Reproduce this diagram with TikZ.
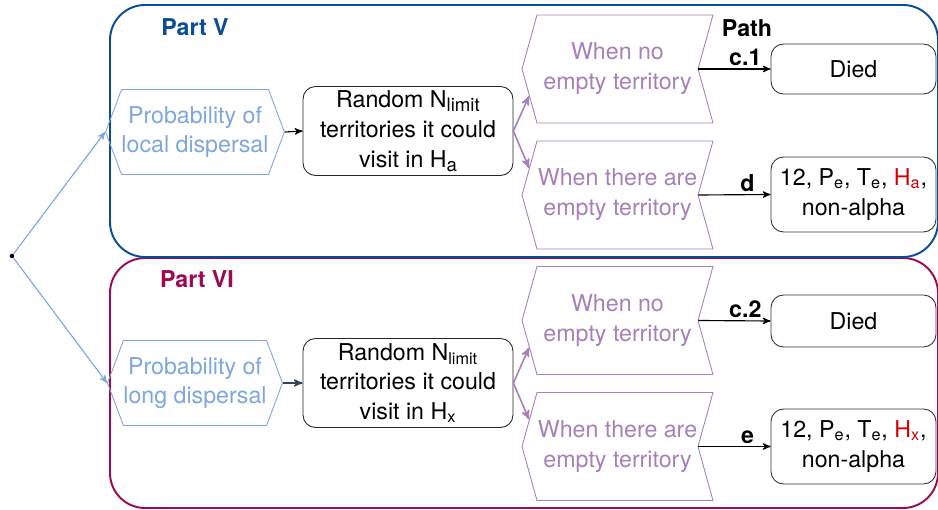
\documentclass[tikz,border=0pt]{standalone}
\usepackage{fontspec}
\setmainfont{TeX Gyre Heros}
\usetikzlibrary{arrows,shapes.symbols}

\definecolor{partv}{HTML}{0B4C96}
\definecolor{partvi}{HTML}{9B0A52}
\definecolor{probblue}{HTML}{7EA6E0}
\definecolor{steppurple}{HTML}{A680B8}
\definecolor{slate}{HTML}{314354}
\definecolor{hred}{HTML}{D40000}

% small lowered index, as in N_limit of the upper part
\newcommand{\lowsub}[1]{\raisebox{-0.3ex}{\fontsize{10.6}{11}\selectfont #1}}

\tikzset{
  every node/.style={font=\fontsize{13.2}{17}\selectfont, align=center},
  partbox/.style={line width=1.1pt, rounded corners=0.7cm},
  partlabel/.style={font=\fontsize{13.2}{17}\selectfont\bfseries},
  probhex/.style={shape=signal, signal to=west and east, signal pointer angle=139,
    draw=probblue, text=probblue, line width=0.5pt,
    minimum width=3.32cm, minimum height=1.7cm, inner sep=0pt},
  randbox/.style={draw=black!85, rounded corners=0.25cm, line width=0.5pt,
    minimum width=4.2cm, minimum height=1.78cm, inner sep=0pt},
  stepshape/.style={shape=signal, signal to=west, signal from=east, signal pointer angle=149,
    draw=steppurple, text=steppurple, line width=0.5pt,
    minimum width=3.82cm, minimum height=2.16cm, inner sep=0pt},
  endbox/.style={draw=black!80, rounded corners=0.25cm, line width=0.5pt,
    minimum width=3.3cm, inner sep=0pt},
  arr/.style={-stealth', line width=0.65pt},
  pathlabel/.style={font=\fontsize{13.2}{17}\selectfont\bfseries, inner sep=1.5pt}
}

\begin{document}
\begin{tikzpicture}[x=0.02cm, y=-0.02cm]
  \useasboundingbox (0,0) rectangle (938,510);

  % the two parts
  \draw[partbox, draw=partvi] (110,258) rectangle (938,508);
  \draw[partbox, draw=partv] (110,5) rectangle (938,257);
  \node[partlabel, text=partv] (partV) at (195,27) {Part V};
  \node[partlabel, text=partvi] (partVI) at (197,279) {Part VI};
  \node[pathlabel] (pathHead) at (747,28) {Path};

  % start point
  \node[circle, fill, inner sep=0pt, minimum size=0.09cm] (start) at (12,256) {};

  % Part V: local dispersal
  \node[probhex] (probA) at (195,132) {Probability of\\local dispersal};
  \node[randbox] (randA) at (408,131) {Random N\lowsub{limit}\\territories it could\\visit in H\lowsub{a}};
  \node[stepshape] (noA) at (617.5,69) {When no\\empty territory};
  \node[stepshape] (yesA) at (617.5,195) {When there are\\empty territory};
  \node[endbox, minimum height=1cm] (diedA) at (853.5,69) {Died};
  \node[endbox, minimum height=1.5cm] (restA) at (853.5,194.5)
    {12, P\textsubscript{e}, T\textsubscript{e}, \textcolor{hred}{H\textsubscript{a}},\\non-alpha};

  % Part VI: long dispersal
  \node[probhex] (probB) at (195,383) {Probability of\\long dispersal};
  \node[randbox] (randB) at (408,383) {Random N\textsubscript{limit}\\territories it could\\visit in H\textsubscript{x}};
  \node[stepshape] (noB) at (617.5,320.5) {When no\\empty territory};
  \node[stepshape] (yesB) at (617.5,446.5) {When there are\\empty territory};
  \node[endbox, minimum height=1.04cm] (diedB) at (853.5,321) {Died};
  \node[endbox, minimum height=1.5cm] (restB) at (853.5,446.5)
    {12, P\textsubscript{e}, T\textsubscript{e}, \textcolor{hred}{H\textsubscript{x}},\\non-alpha};

  % connectors
  \draw[arr, probblue] (start) -- (probA.west);
  \draw[arr, probblue] (start) -- (probB.west);

  \draw[arr] (probA.east) -- (randA.west);
  \draw[arr, slate, line width=0.8pt] (probB.east) -- (randB.west);

  \draw[arr, steppurple, line width=0.9pt] (randA.east) -- (noA.197);
  \draw[arr, steppurple, line width=0.9pt] (randA.east) -- (yesA.163);
  \draw[arr, steppurple, line width=0.9pt] (randB.east) -- (noB.197);
  \draw[arr, steppurple, line width=0.9pt] (randB.east) -- (yesB.163);

  \draw[arr] (noA.east) -- (diedA.west) node[pathlabel, above, pos=0.65] (labC1) {c.1};
  \draw[arr] (yesA.east) -- (restA.west) node[pathlabel, above, pos=0.68] (labD) {d};
  \draw[arr] (noB.east) -- (diedB.west) node[pathlabel, above, pos=0.65] (labC2) {c.2};
  \draw[arr] (yesB.east) -- (restB.west) node[pathlabel, above, pos=0.68] (labE) {e};
\end{tikzpicture}
\end{document}
